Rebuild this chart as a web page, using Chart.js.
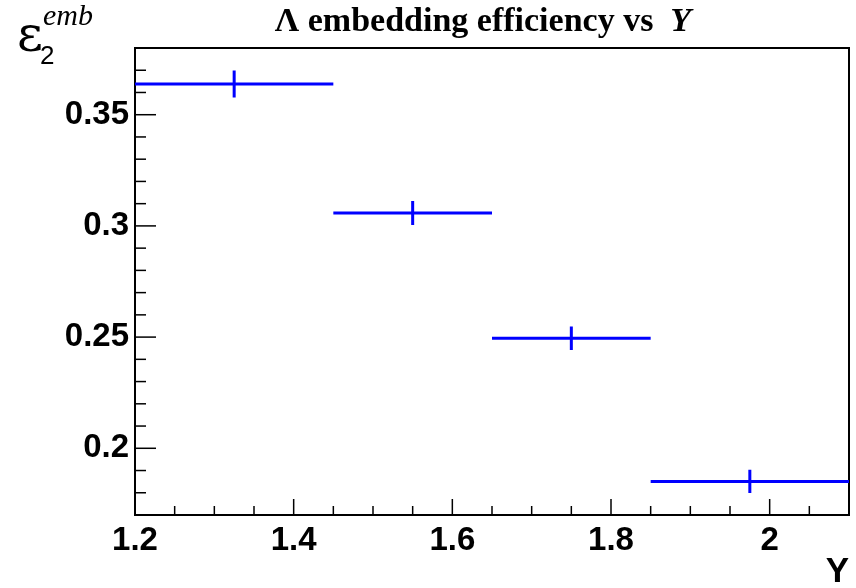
<!DOCTYPE html>
<html>
<head>
<meta charset="utf-8">
<script src="https://cdn.jsdelivr.net/npm/chart.js@4.4.1/dist/chart.umd.min.js"></script>
<style>
  html, body { margin: 0; padding: 0; background: white; }
  #wrap { width: 856px; height: 588px; }
</style>
</head>
<body>
<div id="wrap"><canvas id="effChart"></canvas></div>
<script>
// bins in rapidity Y and the embedding efficiency in each one
const binLow = [1.2, 1.45, 1.65, 1.85];
const binHigh = [1.45, 1.65, 1.85, 2.1];
const binCenter = [1.325, 1.55, 1.75, 1.975];
const effValues = [0.3638, 0.3058, 0.2495, 0.1851];
const effErrors = [0.0061, 0.0054, 0.0053, 0.0052];

const xTickLabels = ['1.2', '1.4', '1.6', '1.8', '2'];
const yTickLabels = ['0.2', '0.25', '0.3', '0.35'];

const points = binCenter.map((x, i) => ({ x: x, y: effValues[i] }));

// ROOT style: frame, ticks pointing inside, bin-width bars with error bars
const rootStyle = {
  id: 'rootStyle',
  afterDatasetsDraw(chart) {
    const ctx = chart.ctx;
    const xs = chart.scales.x, ys = chart.scales.y;
    const a = chart.chartArea;
    ctx.save();

    // minor and major ticks
    ctx.strokeStyle = 'black';
    ctx.lineWidth = 1.5;
    for (let k = 0; k <= 18; k++) {
      const px = xs.getPixelForValue(1.2 + k * 0.05);
      const len = (k % 4 === 0) ? 16 : 9;
      ctx.beginPath();
      ctx.moveTo(px, a.bottom);
      ctx.lineTo(px, a.bottom - len);
      ctx.stroke();
    }
    for (let k = 0; k <= 21; k++) {
      const py = ys.getPixelForValue(0.17 + k * 0.01);
      const len = (k % 5 === 3) ? 21 : 11;
      ctx.beginPath();
      ctx.moveTo(a.left, py);
      ctx.lineTo(a.left + len, py);
      ctx.stroke();
    }

    // frame
    ctx.lineWidth = 2;
    ctx.strokeRect(a.left, a.top, a.right - a.left, a.bottom - a.top);

    // bins
    ctx.strokeStyle = '#0000ff';
    ctx.lineWidth = 3;
    for (let i = 0; i < effValues.length; i++) {
      const py = ys.getPixelForValue(effValues[i]);
      ctx.beginPath();
      ctx.moveTo(xs.getPixelForValue(binLow[i]), py);
      ctx.lineTo(xs.getPixelForValue(binHigh[i]), py);
      const px = xs.getPixelForValue(binCenter[i]);
      ctx.moveTo(px, ys.getPixelForValue(effValues[i] + effErrors[i]));
      ctx.lineTo(px, ys.getPixelForValue(effValues[i] - effErrors[i]));
      ctx.stroke();
    }

    // title
    ctx.fillStyle = 'black';
    ctx.textBaseline = 'alphabetic';
    ctx.textAlign = 'left';
    const t1 = '\u039B embedding efficiency vs  ';
    ctx.font = 'bold 34px "Liberation Serif"';
    const w1 = ctx.measureText(t1).width;
    ctx.font = 'bold italic 34px "Liberation Serif"';
    const w2 = ctx.measureText('Y').width;
    const tx = 483 - (w1 + w2) / 2;
    ctx.font = 'bold 34px "Liberation Serif"';
    ctx.fillText(t1, tx, 31);
    ctx.font = 'bold italic 34px "Liberation Serif"';
    ctx.fillText('Y', tx + w1, 31);

    // y axis title
    ctx.font = '50px "DejaVu Serif"';
    ctx.fillText('\u03B5', 17, 51);
    ctx.font = '26px "Liberation Sans"';
    ctx.fillText('2', 40, 64);
    ctx.font = 'italic 30px "Liberation Serif"';
    ctx.fillText('emb', 43, 25);

    // x axis title
    ctx.font = 'bold 35px "Liberation Sans"';
    ctx.textAlign = 'right';
    ctx.fillText('Y', 849, 582);

    ctx.restore();
  }
};

new Chart(document.getElementById('effChart').getContext('2d'), {
  type: 'scatter',
  data: {
    datasets: [{
      label: 'efficiency',
      data: points,
      pointRadius: 0,
      showLine: false
    }]
  },
  options: {
    responsive: true,
    maintainAspectRatio: false,
    animation: false,
    layout: { padding: { top: 48, right: 7, left: 0, bottom: 0 } },
    plugins: {
      legend: { display: false },
      title: { display: false },
      tooltip: { enabled: false }
    },
    scales: {
      x: {
        type: 'linear',
        min: 1.2,
        max: 2.1,
        grid: { display: false, drawTicks: false },
        border: { display: false },
        ticks: {
          stepSize: 0.2,
          includeBounds: false,
          padding: 6,
          color: 'black',
          font: { family: 'Liberation Sans', size: 33, weight: 'bold' },
          maxRotation: 0,
          callback: function(v) {
            const s = String(+v.toFixed(2));
            return xTickLabels.includes(s) ? s : '';
          }
        },
        afterFit: function(scale) { scale.height = 73; }
      },
      y: {
        type: 'linear',
        min: 0.17,
        max: 0.38,
        grid: { display: false, drawTicks: false },
        border: { display: false },
        ticks: {
          stepSize: 0.05,
          includeBounds: false,
          padding: 6,
          color: 'black',
          font: { family: 'Liberation Sans', size: 33, weight: 'bold' },
          callback: function(v) {
            const s = String(+v.toFixed(2));
            return yTickLabels.includes(s) ? s : '';
          }
        },
        afterFit: function(scale) { scale.width = 135; }
      }
    }
  },
  plugins: [rootStyle]
});
</script>
</body>
</html>
